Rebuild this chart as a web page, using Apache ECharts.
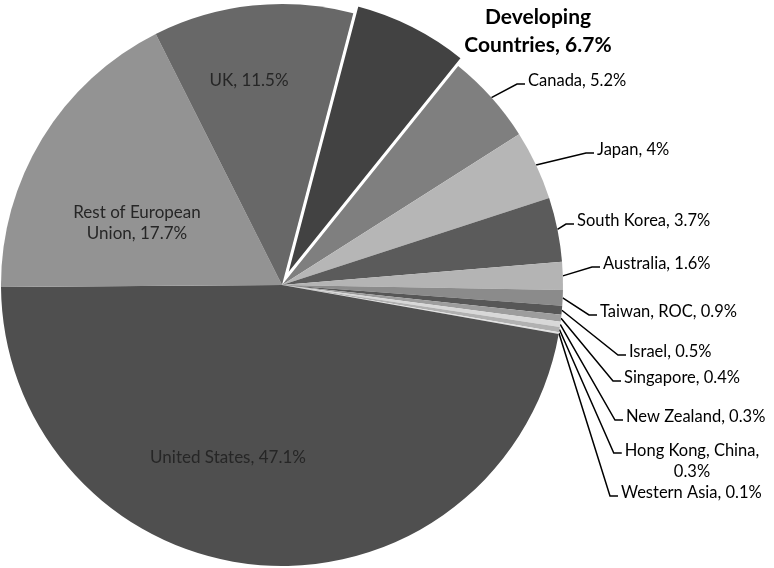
<!DOCTYPE html>
<html>
<head>
<meta charset="utf-8">
<script src="https://cdn.jsdelivr.net/npm/echarts@6/dist/echarts.min.js"></script>
<style>
html, body { margin: 0; padding: 0; background: #fff; }
#chart { width: 774px; height: 568px; }
</style>
</head>
<body>
<div id="chart"></div>
<script>
// slices in clockwise order, starting just right of 12 o'clock
var countries = ['Developing Countries', 'Canada', 'Japan', 'South Korea', 'Australia',
    'Taiwan, ROC', 'Israel', 'Singapore', 'New Zealand', 'Hong Kong, China',
    'Western Asia', 'United States', 'Rest of European Union', 'UK'];
var shares = [6.7, 5.2, 4, 3.7, 1.6, 0.9, 0.5, 0.4, 0.3, 0.3, 0.1, 47.1, 17.7, 11.5];

var shades = ['#424242', '#7f7f7f', '#b6b6b6', '#5b5b5b', '#b4b4b4', '#8b8b8b', '#575757',
    '#9d9d9d', '#d8d8d8', '#b1b1b1', '#e2e2e2', '#4f4f4f', '#939393', '#686868'];

// where each label sits: [x, y, align]
var labelAt = [
    [538, 31, 'center'], [528, 81, 'left'], [597, 150, 'left'], [577, 221, 'left'],
    [603, 264, 'left'], [600, 312, 'left'], [629, 352, 'left'], [624, 378, 'left'],
    [626, 417, 'left'], [692, 461, 'center'], [621, 493, 'left'],
    [228, 458, 'center'], [137, 223, 'center'], [249, 81, 'center']
];
var insideLabels = ['United States', 'Rest of European Union', 'UK'];
var exploded = 'Developing Countries';
var breaks = {
    'Developing Countries': ['Developing ', 'Developing\n'],
    'Rest of European Union': ['European ', 'European\n'],
    'Hong Kong, China': ['China, ', 'China,\n']
};

var cx = 282, cy = 285, r = 281, startAngle = 75.3, pullOut = 9;

// direction of the pulled-out slice, from its share of the pie
var total = shares.reduce(function (a, b) { return a + b; }, 0);
var before = 0;
for (var k = 0; k < countries.indexOf(exploded); k++) before += shares[k];
var midDeg = startAngle - (before + shares[countries.indexOf(exploded)] / 2) / total * 360;
var midRad = midDeg * Math.PI / 180;
var dx = pullOut * Math.cos(midRad), dy = -pullOut * Math.sin(midRad);

var mainData = countries.map(function (name, i) {
    var item = {
        name: name,
        value: shares[i],
        itemStyle: { color: shades[i] }
    };
    if (insideLabels.indexOf(name) >= 0) {
        item.label = { position: 'inside', color: '#262626', fontSize: 17 };
        item.labelLine = { show: false };
    }
    if (name === exploded) {
        item.itemStyle = { color: 'rgba(0,0,0,0)' };
        item.label = { fontSize: 21, fontWeight: 'bold', lineHeight: 28, color: '#000' };
        item.labelLine = { show: false };
    }
    return item;
});

var pulledData = countries.map(function (name, i) {
    if (name === exploded) {
        return { name: name, value: shares[i],
            itemStyle: { color: shades[i], borderColor: '#fff', borderWidth: 2.5 } };
    }
    return { name: name, value: shares[i], itemStyle: { color: 'rgba(0,0,0,0)' } };
});

var myChart = echarts.init(document.getElementById('chart'));
myChart.setOption({
    animation: false,
    series: [{
        type: 'pie',
        center: [cx, cy],
        radius: r,
        startAngle: startAngle,
        clockwise: true,
        avoidLabelOverlap: false,
        emphasis: { disabled: true },
        label: {
            show: true,
            position: 'outside',
            fontFamily: 'Lato',
            fontSize: 16.5,
            lineHeight: 21,
            color: '#000',
            formatter: function (p) {
                var txt = p.name + ', ' + p.value + '%';
                var b = breaks[p.name];
                if (b) txt = txt.replace(b[0], b[1]);
                return txt;
            }
        },
        labelLine: {
            show: true,
            lineStyle: { color: '#000', width: 1.5 }
        },
        labelLayout: function (params) {
            var i = params.dataIndex;
            var pos = labelAt[i];
            var out = { x: pos[0], y: pos[1], align: pos[2], verticalAlign: 'middle' };
            var pts = params.labelLinePoints;
            if (pts && pts.length) {
                var w = params.labelRect.width;
                var h = params.labelRect.height;
                var left = pos[2] === 'center' ? pos[0] - w / 2 : pos[0];
                var ly = pos[2] === 'center' ? pos[1] - h / 2 + 13 : pos[1] + 3;
                out.labelLinePoints = [pts[0], [left - 11, ly], [left - 3, ly]];
            }
            return out;
        },
        data: mainData
    }, {
        type: 'pie',
        center: [cx + dx, cy + dy],
        radius: r,
        startAngle: startAngle,
        clockwise: true,
        silent: true,
        emphasis: { disabled: true },
        label: { show: false },
        labelLine: { show: false },
        data: pulledData
    }]
});
</script>
</body>
</html>
